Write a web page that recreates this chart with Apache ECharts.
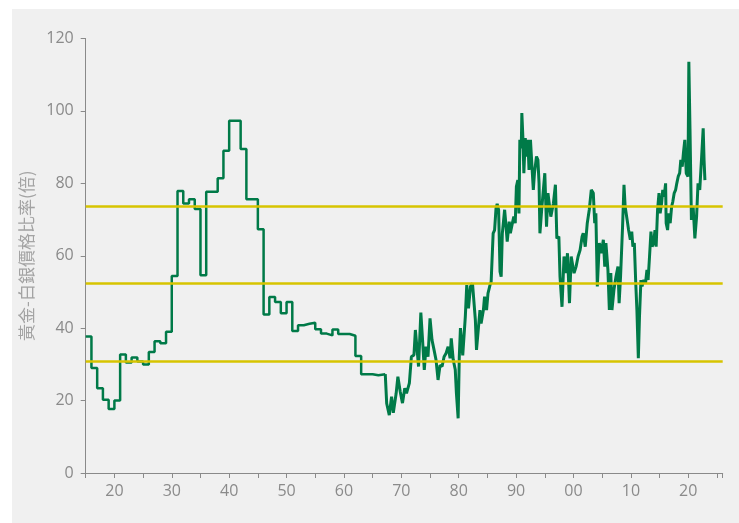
<!DOCTYPE html>
<html>
<head>
<meta charset="utf-8">
<script src="https://cdn.jsdelivr.net/npm/echarts@6/dist/echarts.min.js"></script>
<style>
html,body{margin:0;padding:0;background:#ffffff;}
#wrap{position:relative;width:739px;height:523px;overflow:hidden;}
#bg{position:absolute;left:12px;top:9px;width:727px;height:514px;background:#f0f0f0;}
#c{position:absolute;left:0;top:0;width:739px;height:523px;}
</style>
</head>
<body>
<div id="wrap"><div id="bg"></div><div id="c"></div></div>
<script>
// Annual (step) section: value holds from the given year until the next one
const annualYears = [1915,1916,1917,1918,1919,1920,1921,1922,1923,1924,1925,1926,1927,1928,1929,
  1930,1931,1932,1933,1934,1935,1936,1937,1938,1939,1940,1941,1942,1943,1944,1945,1946,1947,1948,
  1949,1950,1951,1952,1953,1954,1955,1956,1957,1958,1959,1960,1961,1962,1963,1964,1965,1966,1967.2];
const annualRatio = [37.7,29.0,23.4,20.2,17.7,20.0,32.7,30.5,31.9,30.8,30.0,33.4,36.4,35.8,39.0,
  54.4,77.9,74.4,75.6,72.9,54.6,77.7,77.7,81.4,89.0,97.3,97.3,89.5,75.6,75.6,67.3,43.8,48.6,47.2,
  44.1,47.2,39.2,40.8,41.2,41.5,39.7,38.5,38.0,39.6,38.4,38.4,37.9,32.3,27.3,27.3,27.0,27.3,27.3];

// Free-market section
const marketYears = [1967.2,1967.45,1967.9,1968.3,1968.6,1969.1,1969.4,1969.8,1970.2,1970.6,1970.9,
  1971.4,1971.75,1972.2,1972.45,1972.8,1973.0,1973.4,1973.7,1974.0,1974.3,1974.65,1975.0,1975.35,
  1975.7,1976.05,1976.4,1976.75,1977.1,1977.45,1977.8,1978.15,1978.5,1978.7,1979.05,1979.4,1979.6,
  1979.9,1980.1,1980.3,1980.7,1981.15,1981.4,1981.7,1982.05,1982.4,1982.65,1982.9,1983.1,1983.35,
  1983.7,1983.9,1984.3,1984.5,1984.85,1985.1,1985.45,1985.65,1986.0,1986.25,1986.5,1986.7,1986.95,
  1987.2,1987.4,1987.6,1988.0,1988.2,1988.45,1988.8,1989.0,1989.35,1989.6,1989.85,1990.05,1990.3,
  1990.5,1990.65,1990.9,1991.0,1991.2,1991.35,1991.6,1991.8,1992.05,1992.25,1992.5,1992.75,1993.0,
  1993.2,1993.55,1993.8,1994.0,1994.15,1994.5,1995.0,1995.3,1995.55,1996.05,1996.5,1996.85,1997.1,
  1997.45,1997.65,1998.0,1998.35,1998.7,1998.95,1999.3,1999.6,2000.1,2000.45,2000.8,2001.15,2001.5,
  2001.7,2002.05,2002.4,2002.75,2003.1,2003.45,2003.7,2003.9,2004.15,2004.5,2004.85,2005.2,2005.45,
  2005.65,2006.0,2006.25,2006.5,2006.7,2007.05,2007.4,2007.75,2007.95,2008.2,2008.55,2008.8,2009.0,
  2009.35,2009.6,2009.9,2010.15,2010.35,2010.6,2010.85,2011.05,2011.3,2011.5,2011.75,2011.95,2012.2,
  2012.55,2012.8,2013.0,2013.25,2013.5,2013.7,2013.95,2014.2,2014.4,2014.65,2014.9,2015.1,2015.35,
  2015.55,2015.8,2016.05,2016.15,2016.4,2016.6,2016.85,2017.1,2017.3,2017.55,2017.8,2018.0,2018.25,
  2018.5,2018.7,2018.95,2019.15,2019.4,2019.65,2019.95,2020.1,2020.3,2020.55,2020.85,2021.15,2021.45,
  2021.7,2022.0,2022.3,2022.6,2022.75,2022.9];
const marketRatio = [27.3,19.2,16.0,21.1,16.6,22.0,26.6,22.5,19.3,23.4,22.0,
  24.8,32.1,32.6,39.5,33.1,29.4,44.3,36.7,28.5,34.9,32.1,42.7,36.7,
  34.0,31.2,25.7,29.8,29.4,32.1,33.1,34.9,31.7,37.2,31.2,28.5,22.0,
  15.1,32.1,40.0,32.5,43.2,51.9,45.5,51.5,52.4,52.8,42.3,34.0,33.5,
  45.0,41.3,45.0,48.7,45.0,49.6,51.9,52.8,66.2,67.1,73.1,74.3,72.7,
  55.6,54.2,66.2,72.7,69.0,63.9,69.4,66.2,69.0,70.8,69.0,79.1,80.9,
  71.7,92.0,89.7,99.4,92.0,82.8,92.5,87.4,92.0,83.7,92.0,91.5,78.2,
  82.8,87.4,86.5,80.0,66.2,73.6,82.8,68.0,77.3,70.8,74.5,79.6,64.8,
  65.3,54.2,45.9,59.8,55.2,60.7,46.9,59.8,55.2,57.0,59.8,61.6,65.3,
  66.2,62.5,69.0,72.7,78.2,77.3,69.0,71.7,51.5,63.5,60.7,64.4,57.0,
  63.5,56.1,45.0,55.2,45.0,50.6,54.2,57.0,46.9,54.2,68.0,79.6,73.6,
  69.9,67.1,64.4,66.7,62.5,63.5,52.4,45.0,31.7,43.2,53.3,51.5,53.3,
  52.4,56.1,53.3,59.8,66.7,62.5,63.5,67.1,62.5,72.7,77.3,71.7,74.5,
  78.2,76.3,80.0,69.0,67.1,71.7,69.0,73.6,74.9,77.3,78.2,80.0,81.9,
  82.8,86.5,84.6,88.3,92.0,82.8,81.9,113.6,95.0,69.9,73.6,64.8,70.8,
  80.0,78.2,86.5,95.2,86.5,80.9];

// Mean and +/- one standard deviation
const refLevels = [73.7, 52.3, 30.9];

const xTickYears = [1920,1930,1940,1950,1960,1970,1980,1990,2000,2010,2020];
const xTickLabels = ['20','30','40','50','60','70','80','90','00','10','20'];
const yAxisName = '黃金-白銀價格比率(倍)';

const lineColor = '#007a48';
const refColor = '#d7c400';
const axisColor = '#8a8a8a';

const annualData = annualYears.map((y, i) => [y, annualRatio[i]]);
const marketData = marketYears.map((y, i) => [y, marketRatio[i]]);

const chart = echarts.init(document.getElementById('c'), null, {renderer: 'canvas'});
chart.setOption({
  backgroundColor: 'transparent',
  animation: false,
  grid: {left: 85.7, right: 16.3, top: 38.5, bottom: 50},
  xAxis: {
    type: 'value', min: 1915, max: 2026, interval: 5,
    axisLine: {lineStyle: {color: axisColor, width: 1}},
    axisTick: {length: 5, lineStyle: {color: axisColor}},
    splitLine: {show: false},
    axisLabel: {
      color: axisColor, fontSize: 16, margin: 10, fontFamily: 'Open Sans',
      showMinLabel: true, showMaxLabel: true,
      formatter: function (v) {
        const idx = xTickYears.indexOf(Math.round(v));
        return idx >= 0 ? xTickLabels[idx] : '';
      }
    }
  },
  yAxis: {
    type: 'value', min: 0, max: 120, interval: 20,
    name: yAxisName, nameLocation: 'middle', nameGap: 43,
    nameTextStyle: {color: '#a3a3a3', fontSize: 17, fontFamily: 'Noto Sans CJK TC'},
    axisLine: {show: true, lineStyle: {color: axisColor, width: 1}},
    axisTick: {show: true, length: 5, lineStyle: {color: axisColor}},
    splitLine: {show: false},
    axisLabel: {color: axisColor, fontSize: 16, margin: 12, fontFamily: 'Open Sans'}
  },
  series: [
    {
      type: 'line', data: annualData, step: 'end', showSymbol: false, symbol: 'none',
      lineStyle: {color: lineColor, width: 2.5}, z: 2
    },
    {
      type: 'line', data: marketData, showSymbol: false, symbol: 'none',
      lineStyle: {color: lineColor, width: 3}, z: 2
    },
    {
      type: 'line', data: [], z: 5,
      markLine: {
        silent: true, symbol: 'none', label: {show: false},
        lineStyle: {color: refColor, width: 2.5, type: 'solid'},
        data: refLevels.map(v => ({yAxis: v}))
      }
    }
  ]
});
</script>
</body>
</html>
